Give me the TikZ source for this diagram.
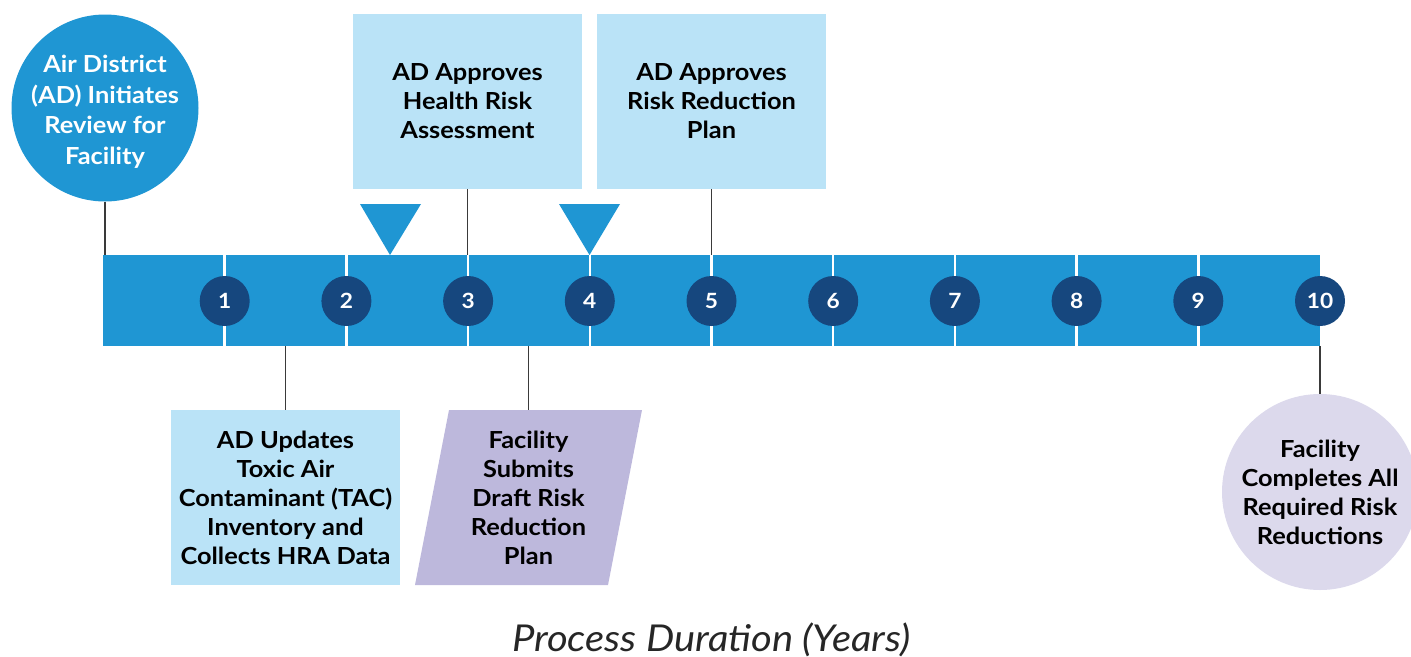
\documentclass[tikz,border=0pt]{standalone}
\usepackage{fontspec}
\setmainfont{Lato}[FakeStretch=1.08]
\definecolor{barblue}{RGB}{31,150,211}
\definecolor{darkblue}{RGB}{22,71,126}
\definecolor{lightbox}{RGB}{186,227,247}
\definecolor{purplebox}{RGB}{189,184,220}
\definecolor{endpurple}{RGB}{220,217,236}
\definecolor{linegray}{RGB}{58,58,58}
\begin{document}
\begin{tikzpicture}[x=1pt,y=-1pt,
  txt/.style={font=\fontsize{23.5}{29}\selectfont\bfseries, align=center, text=black},
  lbox/.style={fill=lightbox, minimum width=229pt, minimum height=175pt, inner sep=0pt, txt},
  num/.style={circle, fill=darkblue, minimum size=50pt, inner sep=0pt, text=white, font=\fontsize{21}{21}\selectfont\bfseries},
  conn/.style={draw=linegray, line width=1.3pt},
  divider/.style={draw=white, line width=2.5pt},
  tri/.style={fill=barblue}]
\useasboundingbox (0,0) rectangle (1411,656);
% timeline bar
\node[fill=barblue, minimum width=1217pt, minimum height=91pt, inner sep=0pt] (bar) at (711.5,300.5) {};
\foreach \i in {1,...,9} \draw[divider] ({103+121.7*\i},255) -- ++(0,91);
\foreach \i in {1,...,10} \node[num] (n\i) at ({103+121.7*\i},301) {\i};
% triangles
\fill[tri] (360,204) -- (421,204) -- (390,255) -- cycle;
\fill[tri] (559,204) -- (620,204) -- (589.5,255) -- cycle;
% start circle
\node[circle, fill=barblue, minimum size=187pt, inner sep=0pt,
  label={[align=center, text=white, font=\fontsize{23.5}{30.5}\selectfont\bfseries, yshift=-4pt]center:Air District\\(AD) Initiates\\Review for\\Facility}] (start) at (105,108) {};
\draw[conn] (start.south) -- (start.south |- bar.north);
% top boxes
\node[lbox] (hra) at (467.5,101.5) {AD Approves\\Health Risk\\Assessment};
\draw[conn] (hra.south) -- (hra.south |- bar.north);
\node[lbox] (rrp) at (711.5,101.5) {AD Approves\\Risk Reduction\\Plan};
\draw[conn] (rrp.south) -- (rrp.south |- bar.north);
% bottom boxes
\node[lbox] (tac) at (285.5,497.5) {AD Updates\\Toxic Air\\Contaminant (TAC)\\Inventory and\\Collects HRA Data};
\draw[conn] (tac.north) -- (tac.north |- bar.south);
\fill[purplebox] (449,410) -- (642,410) -- (608,585) -- (415,585) -- cycle;
\node[txt, minimum width=160pt, minimum height=175pt, inner sep=0pt] (drp) at (528.5,497.5) {Facility\\Submits\\Draft Risk\\Reduction\\Plan};
\draw[conn] (drp.north) -- (drp.north |- bar.south);
% end circle
\node[circle, fill=endpurple, minimum size=196pt, inner sep=0pt, txt] (end) at (1320,492) {Facility\\Completes All\\Required Risk\\Reductions};
\draw[conn] (end.north) -- (end.north |- bar.south);
% axis title
\node[anchor=base, font=\fontsize{37}{37}\selectfont\itshape, text=black!85] (title) at (711.5,651) {Process Duration (Years)};
\end{tikzpicture}
\end{document}
